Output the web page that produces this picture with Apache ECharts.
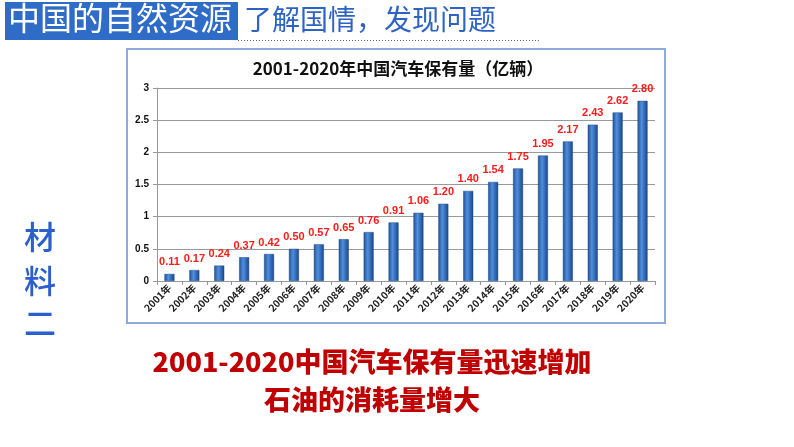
<!DOCTYPE html>
<html><head><meta charset="utf-8">
<script src="https://cdn.jsdelivr.net/npm/echarts@6/dist/echarts.min.js"></script>
<style>html,body{margin:0;padding:0;background:#fff}#c{width:794px;height:447px}</style>
</head><body><div id="c"></div>
<script>
const categories = ['2001年','2002年','2003年','2004年','2005年','2006年','2007年','2008年','2009年','2010年','2011年','2012年','2013年','2014年','2015年','2016年','2017年','2018年','2019年','2020年'];
const values = [0.11,0.17,0.24,0.37,0.42,0.50,0.57,0.65,0.76,0.91,1.06,1.20,1.40,1.54,1.75,1.95,2.17,2.43,2.62,2.80];
const chartTitle = '2001-2020年中国汽车保有量（亿辆）';
const headerBox = '中国的自然资源';
const headerText = '了解国情，发现问题';
const sideText = ['材','料','二'];
const bottomLines = ['2001-2020中国汽车保有量迅速增加','石油的消耗量增大'];

const chart = echarts.init(document.getElementById('c'));
const cjk = '"Noto Sans CJK SC", "Noto Sans", sans-serif';
const graphics = [
  {type:'rect', shape:{x:5,y:2,width:233,height:38}, style:{fill:'#2f6cc8'}},
  {type:'text', left:8, top:2, style:{text:headerBox, font:'32px '+cjk, fill:'#ffffff'}},
  {type:'text', left:244, top:5, style:{text:headerText, font:'28px '+cjk, fill:'#2d63c4'}},
  {type:'line', shape:{x1:238,y1:40.5,x2:540,y2:40.5}, style:{stroke:'#666', lineWidth:1, lineDash:[1,2]}},
  {type:'rect', shape:{x:127,y:49,width:538,height:274}, style:{fill:'none', stroke:'#8faadc', lineWidth:2}},
  {type:'text', x:372, y:362, style:{text:bottomLines[0], font:'900 27px '+cjk, fill:'#c00000', align:'center', verticalAlign:'middle'}},
  {type:'text', x:372, y:400, style:{text:bottomLines[1], font:'900 27px '+cjk, fill:'#c00000', align:'center', verticalAlign:'middle'}}
];
const sideY = [237, 281, 323];
sideText.forEach((t,i)=>graphics.push({type:'text', x:40, y:sideY[i], style:{text:t, font:'500 32px '+cjk, fill:'#2a5fcc', align:'center', verticalAlign:'middle'}}));

chart.setOption({
  animation:false,
  title:{text:chartTitle, left:393, top:55, textAlign:'center', textStyle:{fontFamily:cjk, fontSize:17, fontWeight:'bold', color:'#111'}},
  grid:{left:157, right:139, top:88, bottom:166},
  xAxis:{type:'category', data:categories,
    axisLine:{lineStyle:{color:'#999'}},
    axisTick:{show:true, length:4, lineStyle:{color:'#999'}},
    axisLabel:{rotate:45, fontSize:10, fontWeight:'bold', color:'#222', margin:5, interval:0, fontFamily:cjk}},
  yAxis:{type:'value', min:0, max:3, interval:0.5,
    axisLine:{show:true, lineStyle:{color:'#999'}},
    axisTick:{show:true, length:4, lineStyle:{color:'#999'}},
    splitLine:{lineStyle:{color:'#9a9a9a'}},
    axisLabel:{fontSize:10, fontWeight:'bold', color:'#111', margin:8}},
  series:[{type:'bar', data:values, barWidth:10,
    itemStyle:{color:new echarts.graphic.LinearGradient(0,0,1,0,[
      {offset:0,color:'#234f93'},{offset:0.4,color:'#4f8fdc'},{offset:0.6,color:'#3b77c8'},{offset:1,color:'#1c447f'}]),
      borderColor:'#1f4a8a', borderWidth:0.5},
    label:{show:true, position:'top', distance:6, color:'#ff1a1a', fontWeight:'bold', fontSize:11,
      formatter:p=>p.value.toFixed(2)}}],
  graphic:graphics
});
</script></body></html>
